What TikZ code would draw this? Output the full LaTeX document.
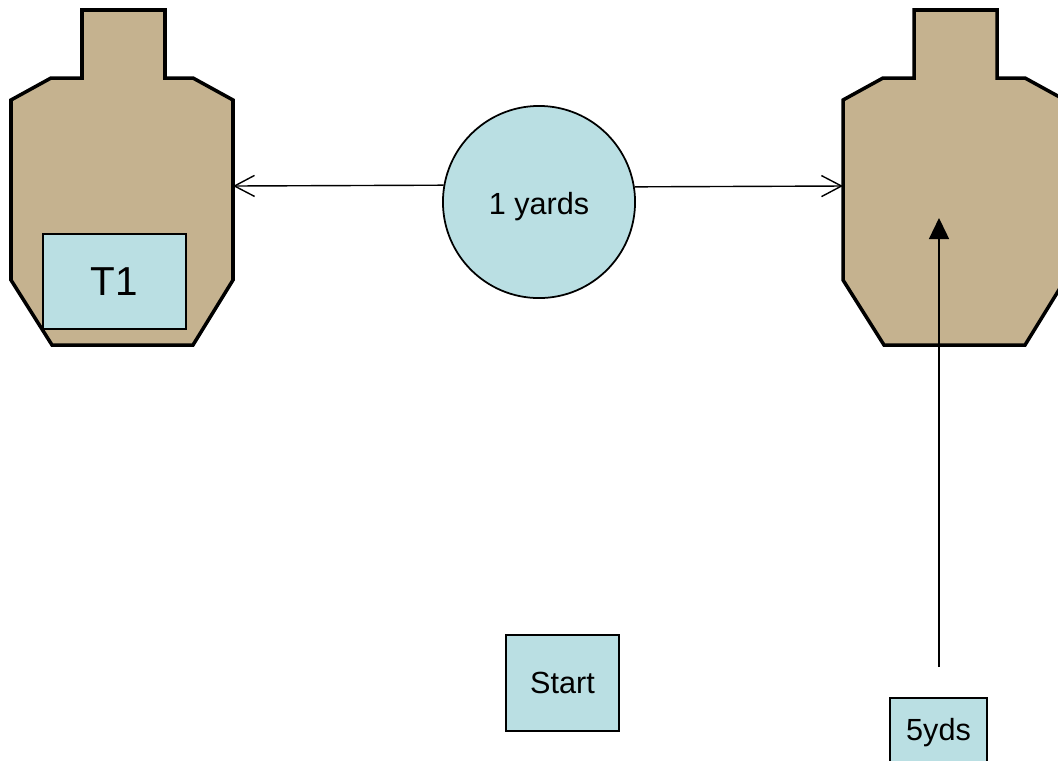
\documentclass[tikz,border=0pt]{standalone}
\usepackage{fontspec}
\setmainfont{Liberation Sans}
\usetikzlibrary{arrows.meta}
\definecolor{cardboard}{RGB}{197,178,143}
\definecolor{paleblue}{RGB}{186,223,227}
\tikzset{
    target/.style = {draw, fill = cardboard, line width = 1pt, line join = miter},
    tag/.style = {draw, fill = paleblue, line width = 0.4pt, inner sep = 0pt, font = \fontsize{8.7}{10}\selectfont},
    dist/.style = {draw, fill = paleblue, circle, line width = 0.5pt, minimum size = 1.92cm, inner sep = 0pt, font = \fontsize{8.7}{10}\selectfont}
}
\begin{document}
\begin{tikzpicture}[x = 0.01cm, y = -0.01cm, line width = 0.4pt]
        \useasboundingbox (0,0) rectangle (1058,760);
        \clip (0,0) rectangle (1058,760);
        % targets
        \foreach \dx in {0,832}
            \draw[target] (\dx+82,10) -- (\dx+165,10) -- (\dx+165,78) -- (\dx+193,78) -- (\dx+233,100) -- (\dx+233,280) -- (\dx+193,345) -- (\dx+52,345) -- (\dx+11,280) -- (\dx+11,100) -- (\dx+51,78) -- (\dx+82,78) -- cycle;
        \coordinate (lhit) at (233,186);
        \coordinate (rhit) at (843,186);

        \node[tag, minimum width = 1.43cm, minimum height = 0.95cm, font = \fontsize{11.5}{13}\selectfont] (t1) at (114.5,281.5) {T1};
        \node[dist] (yd) at (539,202) {\raisebox{0pt}[2.5mm][0pt]{1 yards}};
        \node[tag, minimum width = 1.13cm, minimum height = 0.96cm] (start) at (562.5,683) {Start};
        \node[tag, minimum width = 0.97cm, minimum height = 0.7cm] (yds) at (938.5,733) {5yds};

        \draw[-{Straight Barb[length = 2mm, width = 2.1mm]}] (yd.170.4) -- (lhit);
        \draw[-{Straight Barb[length = 2mm, width = 2.1mm]}] (yd.9.6) -- (rhit);

        \coordinate (base) at (939,667);
        \coordinate (aim) at (939,218);
        \draw[-{Triangle[length = 2.1mm, width = 2mm]}] (base) -- (aim);
    \end{tikzpicture}
\end{document}
